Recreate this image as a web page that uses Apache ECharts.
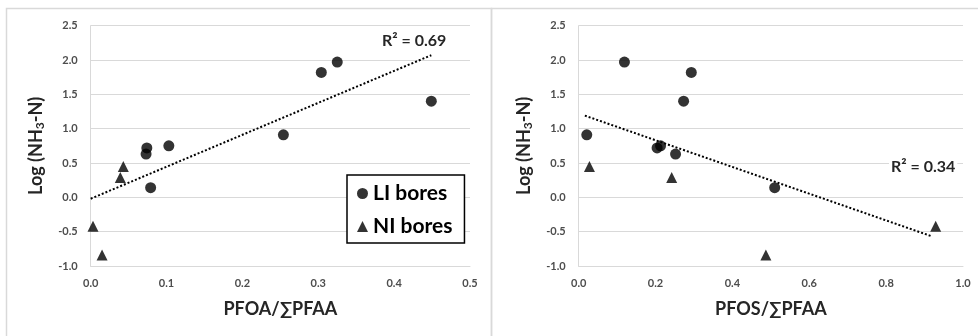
<!DOCTYPE html>
<html>
<head>
<meta charset="utf-8">
<script src="https://cdn.jsdelivr.net/npm/echarts@6/dist/echarts.min.js"></script>
<style>
  html, body { margin: 0; padding: 0; background: #fff; }
  #chart { width: 978px; height: 336px; }
</style>
</head>
<body>
<div id="chart"></div>
<script>
// values: [ratio, log(NH3-N)]
const liPfoa = [[0.074, 0.72], [0.073, 0.63], [0.103, 0.75], [0.079, 0.14],
                [0.254, 0.91], [0.304, 1.82], [0.325, 1.97], [0.449, 1.40]];
const niPfoa = [[0.043, 0.45], [0.039, 0.29], [0.003, -0.42], [0.015, -0.84]];
const liPfos = [[0.021, 0.91], [0.119, 1.97], [0.293, 1.82], [0.273, 1.40],
                [0.204, 0.72], [0.213, 0.75], [0.252, 0.63], [0.510, 0.14]];
const niPfos = [[0.028, 0.45], [0.242, 0.29], [0.487, -0.84], [0.929, -0.42]];
const trendPfoa = [[0, -0.02], [0.449, 2.07]];
const trendPfos = [[0.016, 1.19], [0.920, -0.57]];
const yTicks = [-1.0, -0.5, 0.0, 0.5, 1.0, 1.5, 2.0, 2.5];

const chart = echarts.init(document.getElementById('chart'));
const FONT = 'Lato, "Open Sans", sans-serif';
const GRID_C = '#d9d9d9';

function xAx(idx, max, step, name) {
    return {
        gridIndex: idx, type: 'value', min: 0, max: max, interval: step,
        name: name, nameLocation: 'middle', nameGap: 34,
        nameTextStyle: { fontFamily: FONT, fontWeight: 'bold', fontSize: 18, color: '#262626' },
        axisLine: { onZero: false, lineStyle: { color: GRID_C, width: 1 } },
        axisTick: { show: false },
        splitLine: { show: false },
        axisLabel: { fontFamily: FONT, fontWeight: 'bold', fontSize: 11, color: '#4d4d4d', margin: 12,
            formatter: v => v.toFixed(1) }
    };
}
function yAx(idx) {
    return {
        gridIndex: idx, type: 'value', min: yTicks[0], max: yTicks[yTicks.length - 1], interval: 0.5,
        name: '{a|Log (NH}{s|3}{a|-N)}', nameLocation: 'middle', nameGap: 40,
        nameTextStyle: {
            rich: {
                a: { fontFamily: FONT, fontWeight: 'bold', fontSize: 18, color: '#262626', height: 22 },
                s: { fontFamily: FONT, fontWeight: 'bold', fontSize: 12, color: '#262626', verticalAlign: 'bottom', height: 22, padding: [8, 0, 0, 0] }
            }
        },
        axisLine: { show: true, lineStyle: { color: GRID_C, width: 1 } },
        axisTick: { show: false },
        splitLine: { lineStyle: { color: GRID_C, width: 1 } },
        axisLabel: { fontFamily: FONT, fontWeight: 'bold', fontSize: 11, color: '#4d4d4d', margin: 13,
            formatter: v => v.toFixed(1) }
    };
}
function pts(name, data, sym, idx) {
    return {
        name: name, type: 'scatter', xAxisIndex: idx, yAxisIndex: idx,
        symbol: sym, symbolSize: 11,
        itemStyle: { color: '#000' }, data: data, silent: true, z: 3
    };
}
function trend(data, idx) {
    return {
        type: 'line', xAxisIndex: idx, yAxisIndex: idx, data: data,
        showSymbol: false, silent: true, z: 2,
        lineStyle: { color: '#000', width: 2, type: [2, 2] }
    };
}

let option = {
    animation: false,
    grid: [
        { left: 90.7, top: 25.7, width: 379.3, height: 240.3 },
        { left: 578.7, top: 25.7, width: 384.3, height: 240.3 }
    ],
    xAxis: [xAx(0, 0.5, 0.1, 'PFOA/∑PFAA'), xAx(1, 1.0, 0.2, 'PFOS/∑PFAA')],
    yAxis: [yAx(0), yAx(1)],
    legend: {
        orient: 'vertical', left: 347, top: 175,
        width: 120, height: 76,
        padding: [8, 12, 6, 10], itemGap: 12,
        borderColor: '#000', borderWidth: 1.5,
        backgroundColor: '#fff',
        itemWidth: 11, itemHeight: 11,
        textStyle: { fontFamily: FONT, fontWeight: 'bold', fontSize: 21, color: '#000' },
        data: [{ name: 'LI bores', icon: 'circle' }, { name: 'NI bores', icon: 'triangle' }],
        selectedMode: false
    },
    graphic: [
        { type: 'rect', shape: { x: 6.5, y: 8.5, width: 485, height: 340 }, style: { fill: 'none', stroke: GRID_C, lineWidth: 1.5 }, silent: true },
        { type: 'rect', shape: { x: 491.5, y: 8.5, width: 500, height: 340 }, style: { fill: 'none', stroke: GRID_C, lineWidth: 1.5 }, silent: true },
        { type: 'text', left: 380, top: 32, z: 10,
          style: { text: 'R² = 0.69', font: 'bold 16px ' + FONT, fill: '#262626', backgroundColor: '#fff', padding: [1, 2] } },
        { type: 'text', left: 889, top: 158, z: 10,
          style: { text: 'R² = 0.34', font: 'bold 16px ' + FONT, fill: '#262626', backgroundColor: '#fff', padding: [1, 2] } }
    ],
    series: [
        trend(trendPfoa, 0),
        trend(trendPfos, 1),
        pts('LI bores', liPfoa, 'circle', 0),
        pts('NI bores', niPfoa, 'triangle', 0),
        pts('LI bores', liPfos, 'circle', 1),
        pts('NI bores', niPfos, 'triangle', 1)
    ]
};
chart.setOption(option);
</script>
</body>
</html>
